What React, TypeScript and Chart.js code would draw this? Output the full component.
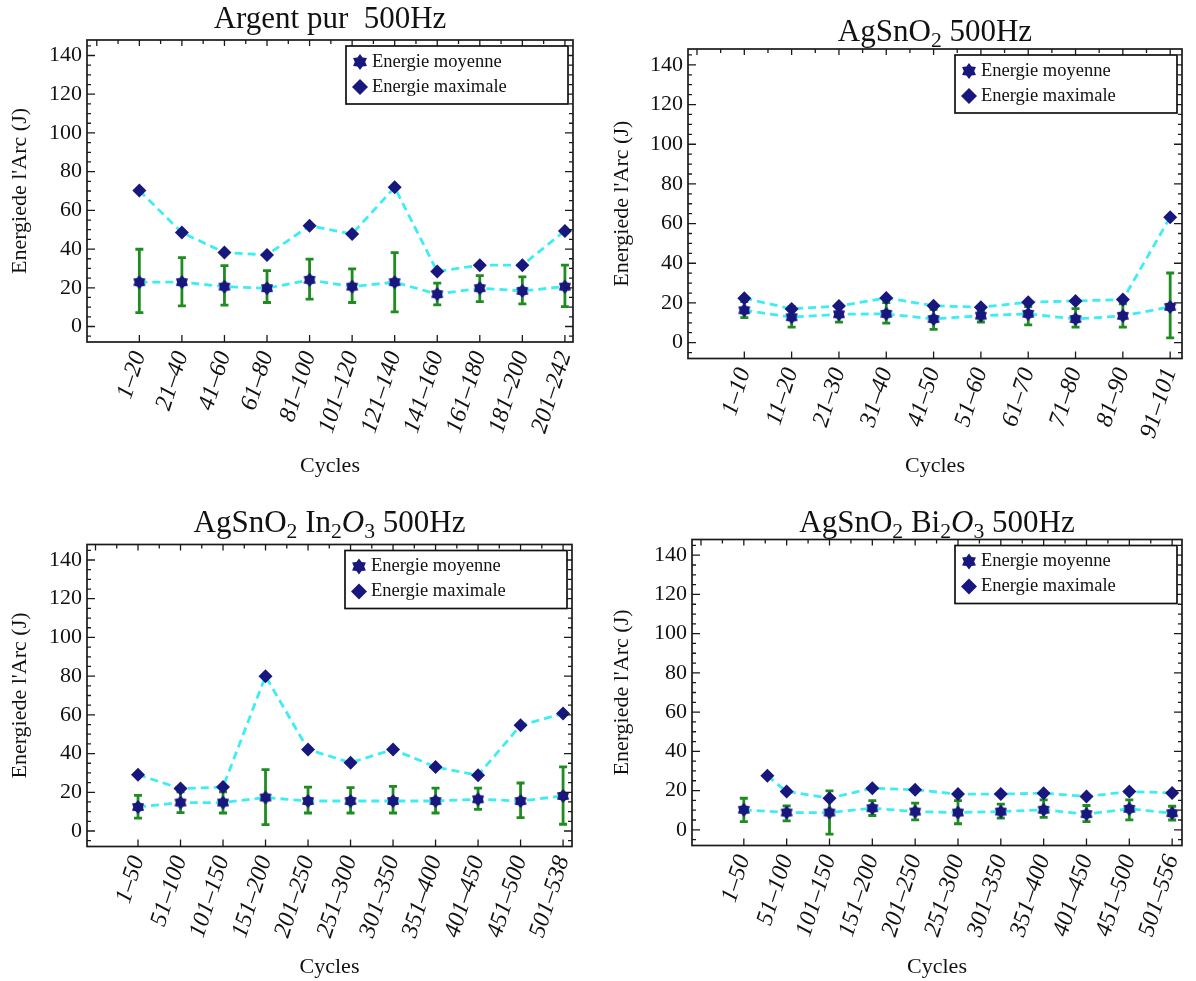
import React, { useEffect, useRef } from "react";
import { Chart, registerables } from "chart.js";

Chart.register(...registerables);

const SERIF = '"Liberation Serif", "Times New Roman", Times, serif';

// ---------- shared axis data ----------
const yTicks = [0, 20, 40, 60, 80, 100, 120, 140];
const yMinorStep = 5;
const seriesLabels = ["Energie moyenne", "Energie maximale"];
const yAxisTitle = "Energiede l'Arc (J)";
const xAxisTitle = "Cycles";

// ---------- Argent pur 500Hz ----------
const argentCycles = ["1–20", "21–40", "41–60", "61–80", "81–100", "101–120", "121–140", "141–160", "161–180", "181–200", "201–242"];
const argentMoyenne = [22.9, 22.9, 20.6, 19.8, 24.1, 20.6, 22.9, 16.7, 19.8, 18.4, 20.6];
const argentMaximale = [70.2, 48.5, 38.2, 37.0, 52.0, 47.8, 71.9, 28.4, 31.7, 31.7, 49.4];
const argentErrHaut = [39.9, 35.6, 31.5, 28.9, 34.8, 29.8, 38.2, 22.4, 26.3, 25.6, 31.7];
const argentErrBas = [7.2, 10.7, 11.0, 12.4, 14.1, 12.4, 7.6, 11.2, 12.9, 11.7, 10.3];

// ---------- AgSnO2 500Hz ----------
const sno2Cycles = ["1–10", "11–20", "21–30", "31–40", "41–50", "51–60", "61–70", "71–80", "81–90", "91–101"];
const sno2Moyenne = [16.3, 12.8, 14.3, 14.5, 11.9, 13.6, 14.5, 11.9, 13.5, 18.0];
const sno2Maximale = [22.4, 17.0, 18.5, 22.5, 18.6, 17.8, 20.4, 21.0, 21.7, 63.2];
const sno2ErrHaut = [20.7, 18.1, 18.5, 20.2, 16.8, 16.0, 18.1, 17.1, 19.5, 35.1];
const sno2ErrBas = [12.6, 7.8, 10.3, 9.8, 6.7, 10.4, 8.9, 7.8, 7.8, 2.4];

// ---------- AgSnO2 In2O3 500Hz ----------
const in2o3Cycles = ["1–50", "51–100", "101–150", "151–200", "201–250", "251–300", "301–350", "351–400", "401–450", "451–500", "501–538"];
const in2o3Moyenne = [12.4, 14.7, 14.7, 17.3, 15.5, 15.5, 15.5, 15.5, 16.4, 15.5, 18.1];
const in2o3Maximale = [29.1, 21.9, 22.7, 80.0, 42.1, 35.3, 42.1, 33.1, 28.8, 54.6, 60.7];
const in2o3ErrHaut = [18.4, 20.2, 20.2, 31.7, 22.7, 22.4, 23.1, 22.2, 22.2, 24.8, 33.1];
const in2o3ErrBas = [6.7, 9.5, 9.3, 3.3, 9.3, 9.3, 9.3, 9.3, 11.2, 6.9, 3.5];

// ---------- AgSnO2 Bi2O3 500Hz ----------
const bi2o3Cycles = ["1–50", "51–100", "101–150", "151–200", "201–250", "251–300", "301–350", "351–400", "401–450", "451–500", "501–556"];
const bi2o3Moyenne = [10.2, 8.8, 8.8, 11.0, 9.3, 8.8, 9.3, 10.2, 8.0, 10.7, 8.5];
const bi2o3MaximalePos = [0.55, 1, 2, 3, 4, 5, 6, 7, 8, 9, 10];
const bi2o3Maximale = [27.5, 19.5, 16.1, 21.2, 20.4, 18.2, 18.2, 18.7, 17.0, 19.5, 18.8];
const bi2o3ErrHaut = [16.1, 12.2, 19.8, 14.9, 13.6, 14.9, 13.1, 15.3, 12.4, 15.3, 12.0];
const bi2o3ErrBas = [4.2, 4.6, -2.2, 7.3, 5.1, 3.1, 6.0, 6.3, 4.2, 5.1, 5.0];

// ---------- styles ----------
const CYAN = "#3ceef4";
const NAVY = "#17177e";
const GREEN = "#1e8c1e";
const FRAME = "#1a1a1a";

type Seg = { t: string; sub?: boolean; it?: boolean };

type PanelSpec = {
  title: Seg[];
  cats: string[];
  moy: number[];
  max: number[];
  maxPos?: number[];
  hi: number[];
  lo: number[];
  left: number;
  top: number;
  w: number;
  h: number;
  frame: { l: number; r: number; t: number; b: number };
  xMin: number;
  xMax: number;
  titleY: number;
  yTitleX: number;
  xTitleY: number;
};

const panels: PanelSpec[] = [
  {
    title: [{ t: "Argent pur  500Hz" }],
    cats: argentCycles, moy: argentMoyenne, max: argentMaximale, hi: argentErrHaut, lo: argentErrBas,
    left: 0, top: 0, w: 598, h: 490,
    frame: { l: 87, r: 573, t: 40, b: 342 },
    xMin: -1.23, xMax: 10.19, titleY: 18, yTitleX: 20, xTitleY: 466,
  },
  {
    title: [{ t: "AgSnO" }, { t: "2", sub: true }, { t: " 500Hz" }],
    cats: sno2Cycles, moy: sno2Moyenne, max: sno2Maximale, hi: sno2ErrHaut, lo: sno2ErrBas,
    left: 600, top: 0, w: 596, h: 490,
    frame: { l: 88, r: 582, t: 49, b: 358.5 },
    xMin: -1.19, xMax: 9.25, titleY: 31, yTitleX: 22, xTitleY: 466,
  },
  {
    title: [{ t: "AgSnO" }, { t: "2", sub: true }, { t: " In" }, { t: "2", sub: true }, { t: "O", it: true }, { t: "3", sub: true }, { t: " 500Hz" }],
    cats: in2o3Cycles, moy: in2o3Moyenne, max: in2o3Maximale, hi: in2o3ErrHaut, lo: in2o3ErrBas,
    left: 0, top: 490, w: 598, h: 491,
    frame: { l: 87, r: 572, t: 54.5, b: 356.5 },
    xMin: -1.2, xMax: 10.21, titleY: 32, yTitleX: 20, xTitleY: 477,
  },
  {
    title: [{ t: "AgSnO" }, { t: "2", sub: true }, { t: " Bi" }, { t: "2", sub: true }, { t: "O", it: true }, { t: "3", sub: true }, { t: " 500Hz" }],
    cats: bi2o3Cycles, moy: bi2o3Moyenne, max: bi2o3Maximale, maxPos: bi2o3MaximalePos, hi: bi2o3ErrHaut, lo: bi2o3ErrBas,
    left: 600, top: 490, w: 596, h: 491,
    frame: { l: 92, r: 582, t: 49.5, b: 355.5 },
    xMin: -1.21, xMax: 10.23, titleY: 32, yTitleX: 22, xTitleY: 477,
  },
];

function drawStar(ctx: CanvasRenderingContext2D, cx: number, cy: number, R: number, r: number) {
  const n = 6;
  ctx.beginPath();
  for (let k = 0; k < 2 * n; k++) {
    const ang = -Math.PI / 2 + (k * Math.PI) / n;
    const rad = k % 2 === 0 ? R : r;
    ctx.lineTo(cx + rad * Math.cos(ang), cy + rad * Math.sin(ang));
  }
  ctx.closePath();
  ctx.fill();
}

function drawDiamond(ctx: CanvasRenderingContext2D, cx: number, cy: number, r: number) {
  ctx.beginPath();
  ctx.moveTo(cx, cy - r);
  ctx.lineTo(cx + r, cy);
  ctx.lineTo(cx, cy + r);
  ctx.lineTo(cx - r, cy);
  ctx.closePath();
  ctx.fill();
}

function makeStarImage(): HTMLCanvasElement {
  const c = document.createElement("canvas");
  c.width = 18;
  c.height = 18;
  const g = c.getContext("2d")!;
  g.fillStyle = NAVY;
  drawStar(g, 9, 9, 7, 4.8);
  return c;
}

function buildConfig(spec: PanelSpec): any {
  const starImg = makeStarImage();
  const yTitleFont = 22;
  const xTitleFont = 22;
  const maxPos = spec.maxPos || spec.max.map((_, i) => i);

  const errorBars = {
    id: "errorBars",
    beforeDatasetsDraw(chart: any) {
      const { ctx, scales } = chart;
      const xs = scales.x, ys = scales.y;
      ctx.save();
      ctx.strokeStyle = GREEN;
      ctx.lineWidth = 2.8;
      ctx.beginPath();
      spec.moy.forEach((_, i) => {
        const px = xs.getPixelForValue(i);
        const pt = ys.getPixelForValue(spec.hi[i]);
        const pb = ys.getPixelForValue(spec.lo[i]);
        ctx.moveTo(px, pt);
        ctx.lineTo(px, pb);
        ctx.moveTo(px - 4, pt);
        ctx.lineTo(px + 4, pt);
        ctx.moveTo(px - 4, pb);
        ctx.lineTo(px + 4, pb);
      });
      ctx.stroke();
      ctx.restore();
    },
  };

  const frame = {
    id: "frame",
    afterDatasetsDraw(chart: any) {
      const { ctx, chartArea: a, scales } = chart;
      const xs = scales.x, ys = scales.y;
      ctx.save();
      ctx.strokeStyle = FRAME;
      ctx.lineWidth = 1.7;
      ctx.strokeRect(a.left, a.top, a.right - a.left, a.bottom - a.top);
      ctx.lineWidth = 1.3;
      ctx.beginPath();
      spec.cats.forEach((_, i) => {
        const px = xs.getPixelForValue(i);
        ctx.moveTo(px, a.bottom);
        ctx.lineTo(px, a.bottom - 7);
      });
      for (let v = Math.ceil(spec.xMin * 2) / 2; v <= spec.xMax; v += 0.5) {
        const px = xs.getPixelForValue(v);
        const len = Number.isInteger(v) ? 6 : 4;
        ctx.moveTo(px, a.top);
        ctx.lineTo(px, a.top + len);
      }
      for (let v = -5; v < 148; v += yMinorStep) {
        const py = ys.getPixelForValue(v);
        const len = yTicks.includes(v) ? 8 : 4;
        ctx.moveTo(a.left, py);
        ctx.lineTo(a.left + len, py);
        ctx.moveTo(a.right, py);
        ctx.lineTo(a.right - len, py);
      }
      ctx.stroke();
      ctx.restore();
    },
  };

  const legendBox = {
    id: "legendBox",
    afterDatasetsDraw(chart: any) {
      const { ctx, chartArea: a } = chart;
      const bw = 222, bh = 58;
      const bx = a.right - 5 - bw;
      const by = a.top + 6;
      ctx.save();
      ctx.fillStyle = "#fff";
      ctx.fillRect(bx, by, bw, bh);
      ctx.strokeStyle = "#111";
      ctx.lineWidth = 1.7;
      ctx.strokeRect(bx, by, bw, bh);
      ctx.fillStyle = NAVY;
      drawStar(ctx, bx + 14, by + 16, 8, 5.2);
      drawDiamond(ctx, bx + 14, by + 41, 8);
      ctx.fillStyle = "#111";
      ctx.font = `18.5px ${SERIF}`;
      ctx.textBaseline = "middle";
      ctx.textAlign = "left";
      ctx.fillText(seriesLabels[0], bx + 26, by + 16);
      ctx.fillText(seriesLabels[1], bx + 26, by + 41);
      ctx.restore();
    },
  };

  const richTitle = {
    id: "richTitle",
    afterDraw(chart: any) {
      const { ctx, chartArea: a } = chart;
      const size = 31;
      const fontFor = (s: Seg) => `${s.it ? "italic " : ""}${s.sub ? size * 0.7 : size}px ${SERIF}`;
      ctx.save();
      let total = 0;
      spec.title.forEach((s) => {
        ctx.font = fontFor(s);
        total += ctx.measureText(s.t).width;
      });
      let x = (a.left + a.right) / 2 - total / 2;
      ctx.fillStyle = "#111";
      ctx.textBaseline = "alphabetic";
      ctx.textAlign = "left";
      const base = spec.titleY + size * 0.33;
      spec.title.forEach((s) => {
        ctx.font = fontFor(s);
        ctx.fillText(s.t, x, s.sub ? base + 6 : base);
        x += ctx.measureText(s.t).width;
      });
      ctx.restore();
    },
  };

  return {
    type: "line",
    data: {
      datasets: [
        {
          label: seriesLabels[0],
          data: spec.moy.map((v, i) => ({ x: i, y: v })),
          borderColor: CYAN,
          borderWidth: 2.8,
          borderDash: [8, 5],
          pointStyle: starImg,
          pointRadius: 6,
          pointBackgroundColor: NAVY,
          pointBorderWidth: 0,
          tension: 0,
          fill: false,
        },
        {
          label: seriesLabels[1],
          data: spec.max.map((v, i) => ({ x: maxPos[i], y: v })),
          borderColor: CYAN,
          borderWidth: 2.8,
          borderDash: [8, 5],
          pointStyle: "rectRot",
          pointRadius: 7,
          pointBackgroundColor: NAVY,
          pointBorderColor: NAVY,
          pointBorderWidth: 0,
          tension: 0,
          fill: false,
        },
      ],
    },
    options: {
      animation: false,
      responsive: false,
      devicePixelRatio: 1,
      events: [],
      layout: {
        padding: { left: 0, top: spec.frame.t, right: spec.w - spec.frame.r, bottom: 0 },
      },
      plugins: {
        legend: { display: false },
        tooltip: { enabled: false },
        title: { display: false },
      },
      scales: {
        x: {
          type: "linear",
          min: spec.xMin,
          max: spec.xMax,
          afterBuildTicks: (s: any) => {
            s.ticks = spec.cats.map((_, i) => ({ value: i }));
          },
          afterFit: (s: any) => {
            s.height = spec.h - spec.frame.b;
            s.paddingLeft = 0;
            s.paddingRight = 0;
          },
          ticks: {
            autoSkip: false,
            maxRotation: 72,
            minRotation: 72,
            padding: 6,
            color: "#111",
            font: { family: SERIF, size: 24, style: "italic" },
            callback: (v: number) => spec.cats[Math.round(v)],
          },
          grid: { display: false, drawTicks: false },
          border: { display: false },
          title: {
            display: true,
            text: xAxisTitle,
            color: "#111",
            font: { family: SERIF, size: xTitleFont },
            padding: { top: 0, bottom: spec.h - spec.xTitleY - (xTitleFont * 1.2) / 2 },
          },
        },
        y: {
          type: "linear",
          min: -8,
          max: 148,
          afterBuildTicks: (s: any) => {
            s.ticks = yTicks.map((v) => ({ value: v }));
          },
          afterFit: (s: any) => {
            s.width = spec.frame.l;
            s.paddingTop = 0;
            s.paddingBottom = 0;
          },
          ticks: {
            padding: 5,
            color: "#111",
            font: { family: SERIF, size: 22 },
            callback: (v: number) => String(v),
          },
          grid: { display: false, drawTicks: false },
          border: { display: false },
          title: {
            display: true,
            text: yAxisTitle,
            color: "#111",
            font: { family: SERIF, size: yTitleFont },
            padding: { top: spec.yTitleX - (yTitleFont * 1.2) / 2, bottom: 0 },
          },
        },
      },
    },
    plugins: [errorBars, frame, legendBox, richTitle],
  };
}

function Panel({ spec }: { spec: PanelSpec }) {
  const ref = useRef<HTMLCanvasElement>(null);
  useEffect(() => {
    const chart = new Chart(ref.current!, buildConfig(spec));
    return () => chart.destroy();
  }, [spec]);
  return (
    <canvas
      ref={ref}
      width={spec.w}
      height={spec.h}
      style={{ position: "absolute", left: spec.left, top: spec.top, width: spec.w, height: spec.h }}
    />
  );
}

export default function App() {
  return (
    <div style={{ position: "fixed", left: 0, top: 0, width: 1196, height: 981, background: "#fff" }}>
      {panels.map((p, i) => (
        <Panel key={i} spec={p} />
      ))}
    </div>
  );
}
